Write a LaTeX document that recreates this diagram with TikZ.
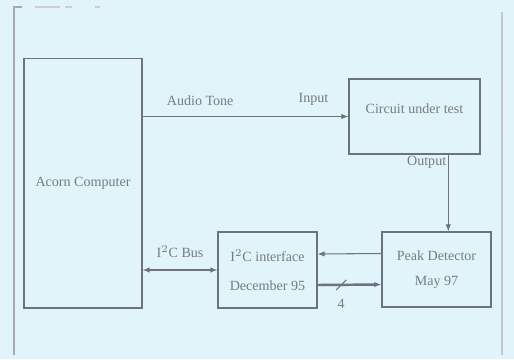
\documentclass[tikz,border=0pt]{standalone}
\usepackage{fontspec}
\setmainfont{Liberation Serif}
\usepackage{tikz}
\usetikzlibrary{arrows.meta,positioning,calc}
\definecolor{paper}{RGB}{224,244,250}
\definecolor{ink}{RGB}{108,114,130}
\definecolor{txt}{RGB}{118,124,136}

\begin{document}
\begin{tikzpicture}[
  x=0.02cm, y=-0.02cm,
  box/.style={draw=ink, line width=0.6pt, font=\footnotesize, text=txt, align=center},
  lbl/.style={font=\footnotesize, text=txt, inner sep=1pt},
  arr/.style={-{Latex[length=4pt,width=3pt]}, draw=ink, line width=0.6pt},
  bus/.style={{Latex[length=4pt,width=3pt]}-{Latex[length=4pt,width=3pt]}, draw=ink, line width=0.6pt},
  frame/.style={draw=ink!60, line width=0.6pt}
]
  % page and frame
  \fill[paper] (0,0) rectangle (514,359);
  \useasboundingbox (0,0) rectangle (514,359);
  \draw[frame] (22,7) -- (14,7) -- (14,355);
  \draw[frame, draw=ink!35] (35,7) -- (60,7) (65,7) -- (72,7) (95,7) -- (100,7);
  \draw[frame, draw=ink!40] (502,12) -- (502,355);

  % blocks
  \node[box, minimum width=2.36cm, minimum height=5cm] (acorn) at (83,183) {Acorn Computer};
  \node[box, minimum width=2.62cm, minimum height=1.5cm, text depth=0.3cm] (cut) at (414.5,116.5) {Circuit under test};
  \node[box, minimum width=1.98cm, minimum height=1.52cm] (iic) at (267.5,270) {I$^2$C interface\\[7pt]December 95};
  \node[box, minimum width=2.18cm, minimum height=1.5cm] (peak) at (436.5,269.5) {Peak Detector\\[5pt]May 97};

  % connections
  \draw[arr] (acorn.east |- cut.west) -- (cut.west)
    node[lbl, pos=0.28, above=5pt] {Audio Tone}
    node[lbl, pos=0.83, above=5pt] {Input};
  \coordinate (out) at ($(cut.south east)!0.244!(cut.south west)$);
  \draw[arr] (out) -- (out |- peak.north);
  \node[lbl, anchor=north east] at (out) {Output};
  \draw[bus] (acorn.east |- iic.west) -- (iic.west)
    node[lbl, midway, above=6pt] {I$^2$C Bus};
  \draw[arr] ($(peak.west)+(0,-16)$) -- ($(iic.east)+(0,-16)$);
  \draw[arr, line width=1.4pt] ($(iic.east)+(0,15)$) -- ($(peak.west)+(0,15)$)
    coordinate[pos=0.37] (slash);
  \draw[draw=ink, line width=0.6pt] ($(slash)+(-5,5)$) -- ($(slash)+(5,-5)$);
  \node[lbl, below=7pt] at (slash) {4};
\end{tikzpicture}
\end{document}
